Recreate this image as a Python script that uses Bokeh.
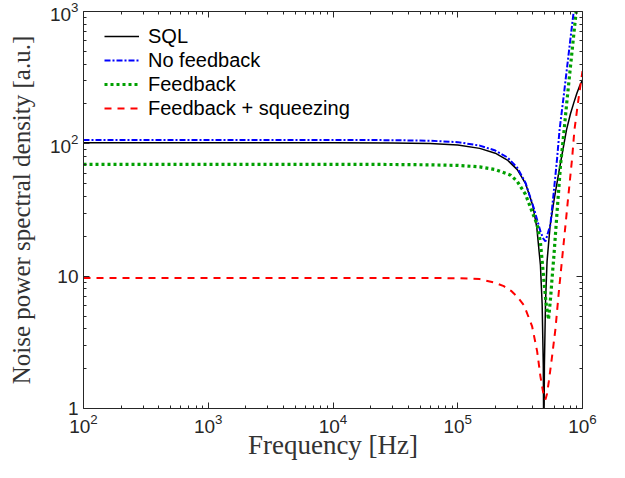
from bokeh.plotting import figure
from bokeh.models import LogAxis, FixedTicker, Legend, LegendItem, LogTickFormatter, CustomJSTickFormatter
from bokeh.embed import file_html
from bokeh.resources import INLINE

# ---- data ----
sql_f = [1e2, 1e3, 1e4, 3e4, 6e4, 1e5, 1.5e5, 2e5, 2.5e5, 3e5, 3.5e5, 4e5, 4.3e5, 4.6e5,
         4.75e5, 4.85e5, 4.88e5, 4.9e5, 4.92e5, 4.95e5, 5.05e5, 5.2e5, 5.5e5, 5.9e5, 6.5e5,
         6.9e5, 7.45e5, 8e5, 8.5e5, 9e5, 9.5e5, 1e6]
sql_v = [102, 102, 102, 101.6, 100.5, 97.8, 92.4, 85.0, 75.4, 63.8, 50.0, 34.0, 23.4, 12.1,
         6.1, 2.1, 0.83, 0.02, 0.83, 2.1, 6.3, 13, 24, 37, 63,
         86, 128, 168, 203, 240, 275, 305]

nofb_f = [1e2, 1e3, 1e4, 3e4, 6e4, 1e5, 1.5e5, 2e5, 2.5e5, 3e5, 3.5e5, 4.07e5, 4.6e5, 4.85e5,
          5.05e5, 5.25e5, 5.53e5, 5.89e5, 6.26e5, 6.55e5, 7e5, 7.45e5, 8e5, 8.5e5, 9e5, 1e6]
nofb_v = [107, 107, 107, 106.6, 105.5, 103, 97, 89, 79, 66, 50.5, 32.7, 21.8, 19.2,
          18.3, 20.8, 24.5, 43.6, 78, 128, 213, 350, 620, 1000, 1600, 4000]

fb_f = [1e2, 1e3, 1e4, 3e4, 6e4, 1e5, 1.5e5, 2e5, 2.65e5, 3e5, 3.49e5, 3.83e5, 4.33e5, 4.6e5,
        4.75e5, 4.9e5, 5.1e5, 5.34e5, 5.56e5, 5.69e5, 5.89e5, 6.26e5, 6.67e5, 7.08e5, 7.5e5,
        8e5, 8.5e5, 8.9e5, 1e6]
fb_v = [70, 70, 70, 69.8, 69.4, 68.7, 67, 64, 58, 52, 41.5, 33, 24.5, 18,
        13, 9.4, 6.3, 4.7, 7.0, 9.4, 14, 31, 69.5, 120, 210,
        380, 660, 1000, 2500]

sq_f = [1e2, 1e3, 1e4, 3e4, 6e4, 1e5, 1.5e5, 2e5, 2.34e5, 2.7e5, 3e5, 3.4e5, 3.94e5, 4.33e5,
        4.6e5, 4.8e5, 4.95e5, 5.05e5, 5.2e5, 5.37e5, 5.71e5, 6.07e5, 6.46e5, 6.67e5, 7.31e5,
        7.76e5, 8.26e5, 8.6e5, 9.2e5, 1e6]
sq_v = [9.7, 9.7, 9.7, 9.7, 9.68, 9.65, 9.5, 8.9, 8.4, 7.7, 7.0, 6.0, 4.2, 2.7,
        1.75, 1.38, 1.2, 1.17, 1.3, 1.6, 2.5, 4.0, 7.6, 10.3, 24.5,
        43.6, 78, 125, 205, 355]

series_labels = ["SQL", "No feedback", "Feedback", "Feedback + squeezing"]

x_major = [1e2, 1e3, 1e4, 1e5, 1e6]
x_minor = [m * d for d in [1e2, 1e3, 1e4, 1e5] for m in range(2, 10)]
y_major = [1, 10, 100, 1000]
y_minor = [m * d for d in [1, 10, 100] for m in range(2, 10)]

AX = "#262626"

p = figure(width=609, height=462, x_axis_type="log", y_axis_type="log",
           x_range=(1e2, 1e6), y_range=(1, 1e3),
           output_backend="svg", toolbar_location=None,
           min_border_left=83, min_border_right=27, min_border_top=11, min_border_bottom=53)
p.grid.visible = False
p.outline_line_color = None
p.background_fill_color = "white"
p.border_fill_color = "white"

def style_axis(ax, labels=True):
    ax.axis_line_color = AX
    ax.major_tick_line_color = AX
    ax.minor_tick_line_color = AX
    ax.major_tick_in = 6
    ax.major_tick_out = 0
    ax.minor_tick_in = 3
    ax.minor_tick_out = 0
    if labels:
        ax.major_label_text_font = "Liberation Sans"
        ax.major_label_text_font_size = "19px"
        ax.major_label_text_color = AX
        ax.axis_label_text_font = "Liberation Serif"
        ax.axis_label_text_font_style = "normal"
        ax.axis_label_text_color = "#333333"
    else:
        ax.formatter = CustomJSTickFormatter(code="return '';")
        ax.major_label_standoff = 0

xa = p.xaxis[0]
xa.ticker = FixedTicker(ticks=x_major, minor_ticks=x_minor)
xa.formatter = LogTickFormatter()
xa.axis_label = "Frequency [Hz]"
style_axis(xa)
xa.axis_label_text_font_size = "27px"
xa.major_label_standoff = 5
xa.axis_label_standoff = -6

ya = p.yaxis[0]
ya.ticker = FixedTicker(ticks=y_major, minor_ticks=y_minor)
ya.formatter = LogTickFormatter()
ya.major_label_overrides = {1: "1", 10: "10"}
ya.axis_label = "Noise power spectral density [a.u.]"
style_axis(ya)
ya.axis_label_text_font_size = "25px"
ya.major_label_standoff = 5
ya.axis_label_standoff = 12

top = LogAxis(ticker=FixedTicker(ticks=x_major, minor_ticks=x_minor))
style_axis(top, labels=False)
p.add_layout(top, "above")
right = LogAxis(ticker=FixedTicker(ticks=y_major, minor_ticks=y_minor))
style_axis(right, labels=False)
p.add_layout(right, "right")

r1 = p.line(sql_f, sql_v, line_color="black", line_width=1.5)
r2 = p.line(nofb_f, nofb_v, line_color="#0000ff", line_width=2, line_dash="6 2 2 2")
r3 = p.line(fb_f, fb_v, line_color="#00a000", line_width=3.2, line_dash="3 3")
r4 = p.line(sq_f, sq_v, line_color="#ff0000", line_width=2, line_dash="7 6")

legend = Legend(items=[LegendItem(label=series_labels[0], renderers=[r1]),
                       LegendItem(label=series_labels[1], renderers=[r2]),
                       LegendItem(label=series_labels[2], renderers=[r3]),
                       LegendItem(label=series_labels[3], renderers=[r4])],
                location=(21, 288))
legend.margin = 0
legend.padding = 0
legend.border_line_color = None
legend.background_fill_alpha = 0
legend.label_text_font = "Liberation Sans"
legend.label_text_font_size = "20px"
legend.label_text_color = "black"
legend.glyph_width = 35
legend.glyph_height = 24
legend.label_height = 24
legend.label_standoff = 9
legend.spacing = 0
p.add_layout(legend, "center")

open("out.html", "w").write(file_html(p, INLINE))
